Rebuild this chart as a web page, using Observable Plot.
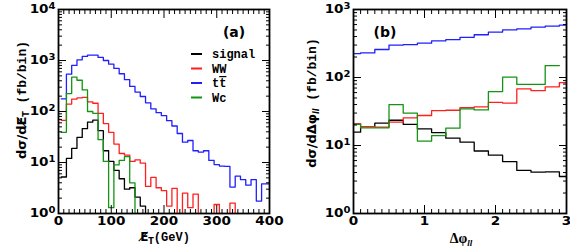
<!DOCTYPE html>
<html><head><meta charset="utf-8">
<script src="https://cdn.jsdelivr.net/npm/d3@7"></script>
<script src="https://cdn.jsdelivr.net/npm/@observablehq/plot@0.6"></script>
<style>
body{margin:0;background:#fff}
#wrap{position:relative;width:570px;height:249px;overflow:hidden;background:#fff}
#pa,#pb{position:absolute;top:0}
#pa{left:0}#pb{left:285px}
svg{overflow:visible}
</style></head><body>
<div id="wrap"><div id="pa"></div><div id="pb"></div></div>
<script>
// ---------- data ----------
const seriesNames = ["signal", "WW", "tt", "Wc"];
const seriesColors = ["#000000", "#ff1f1f", "#1f1fff", "#139413"];

// Panel (a): missing ET, 10 GeV bins (bin centres)
const metCenters = [10,20,30,40,50,60,70,80,90,100,110,120,130,140,150,160,170,180,190,200,
  210,220,230,240,250,260,270,280,290,300,310,320,330,340,350,360,370,380,390,400];
const metSignal = [5.2,12,19,31,46,62,68,42,17,10.5,7,4.8,3.0,3.2,2.1,1.4,
  0.5,0.5,0.5,0.5,0.5,0.5,0.5,0.5,0.5,0.5,0.5,0.5,0.5,0.5,0.5,0.5,0.5,0.5,0.5,0.5,0.5,0.5,0.5,0.5];
const metWW = [67,140,175,185,190,155,145,92,58,39,23,15,14,10.5,11.3,9.7,3.4,5.1,3.2,2.8,
  1.4,3.1,0.5,2.5,1.3,2.4,0.5,0.5,0.5,1.5,0.5,0.5,1.6,0.5,0.5,0.5,0.5,0.5,0.5,0.5];
const metTT = [177,540,800,1030,1200,1270,1270,1150,1000,850,700,550,420,310,240,197,148,113,95,83,
  66,52,37,25,27,17,16,17,11,9.1,8.5,8.4,3.3,5.4,4.6,3.6,4.6,1.75,3.8,3.8];
const metWc = [39,225,470,410,265,100,92,28,10.5,1.3,9,11,13,4,
  0.5,0.5,0.5,0.5,0.5,0.5,0.5,0.5,0.5,0.5,0.5,0.5,0.5,0.5,0.5,0.5,0.5,0.5,0.5,0.5,0.5,0.5,0.5,0.5,0.5,0.5];

// Panel (b): delta phi_ll, bins of 0.2 (bin centres)
const dphiCenters = [0,0.2,0.4,0.6,0.8,1.0,1.2,1.4,1.6,1.8,2.0,2.2,2.4,2.6,2.8,3.0];
const dphiSignal = [15.7,19,21.3,23.5,20.5,17.6,15.5,12.8,11.2,8.3,7.2,5.8,4.3,4.05,4.1,3.5];
const dphiWW = [21,19,18.6,22,25.5,27.6,32.6,33,36,37,43,42,68,64,73,84];
const dphiTT = [225,230,258,300,305,320,345,360,390,425,465,500,520,550,570,590];
const dphiWc = [20.5,18.2,18.2,40,30,11.6,14,18,34.6,33.4,62,101,79,79,150,null];

// axis tick labels
const metTickLabels = [0,100,200,300,400];
const dphiTickLabels = [0,1,2,3];
const yDecadesA = [1,10,100,1000,10000];
const yDecadesB = [1,10,100,1000];
const legendLabels = ["signal", "WW", "tt", "Wc"];

// ---------- helpers ----------
function histData(centers, half, series) {
  const out = [];
  series.forEach(s => {
    const idx = [];
    s.values.forEach((v, i) => { if (v != null) idx.push(i); });
    idx.forEach(i => out.push({x: centers[i] - half, y: s.values[i], name: s.name}));
    const li = idx[idx.length - 1];
    out.push({x: centers[li] + half, y: s.values[li], name: s.name});
  });
  return out;
}

function stretch(sel, k) {
  sel.each(function () {
    const tr = this.getAttribute("transform") || "";
    this.setAttribute("transform", tr + ` scale(${k},1)`);
  });
}

function panel(cfg) {
  const data = histData(cfg.centers, cfg.half, cfg.series);
  const minorY = [];
  cfg.yMajor.slice(0, -1).forEach(d => { for (let m = 2; m <= 9; m++) minorY.push(d * m); });
  const majY = cfg.yMajor;
  const svg = Plot.plot({
    width: cfg.width, height: 249,
    marginLeft: cfg.ml, marginRight: cfg.mr, marginTop: 9, marginBottom: 36,
    style: {fontFamily: "DejaVu Sans", fontWeight: "bold", fontSize: "11px", background: "white", overflow: "visible", color: "black"},
    x: {domain: cfg.xDomain},
    y: {type: "log", domain: [majY[0], majY[majY.length - 1]]},
    color: {domain: seriesNames, range: seriesColors},
    marks: [
      Plot.line(data, {x: "x", y: "y", z: "name", stroke: "name", curve: "step-after", clip: true, strokeWidth: 1.3}),
      Plot.axisX(cfg.xMinor, {anchor: "bottom", tickSize: -4, fill: "none"}),
      Plot.axisX(cfg.xMinor, {anchor: "top", tickSize: -4, fill: "none"}),
      Plot.axisX(cfg.xMajor, {anchor: "bottom", tickSize: -8, fill: "none"}),
      Plot.axisX(cfg.xMajor, {anchor: "top", tickSize: -8, fill: "none"}),
      Plot.axisX(cfg.xLabels, {anchor: "bottom", tickSize: 0, tickPadding: 3, label: null, fontSize: 11.5, fill: "black"}),
      Plot.axisY(minorY, {anchor: "left", tickSize: -4, fill: "none"}),
      Plot.axisY(minorY, {anchor: "right", tickSize: -4, fill: "none"}),
      Plot.axisY(majY, {anchor: "left", tickSize: -8, fill: "none"}),
      Plot.axisY(majY, {anchor: "right", tickSize: -8, fill: "none"}),
      Plot.axisY(majY, {anchor: "left", tickSize: 0, tickPadding: 3, label: null, fontSize: 11.5, fill: "black",
        tickFormat: d => String(Math.round(Math.log10(d)))}),
      Plot.frame({stroke: "black", strokeWidth: 1.8})
    ]
  });
  const s = d3.select(svg);
  s.selectAll('g[aria-label="y-axis tick label"] text').each(function () {
    const e = this.textContent;
    const t = d3.select(this);
    t.text("10");
    t.append("tspan").attr("dy", "-0.55em").attr("font-size", "8.5px").text(e);
  });
  stretch(s.selectAll('g[aria-label="y-axis tick label"] text'), 1.18);
  stretch(s.selectAll('g[aria-label="x-axis tick label"] text'), 1.18);
  return svg;
}

// ---------- panel (a) ----------
const svgA = panel({
  centers: metCenters, half: 5, width: 285, ml: 58, mr: 16,
  xDomain: [0, 400],
  xMinor: d3.range(10, 400, 10).filter(v => v % 100 !== 0),
  xMajor: [100, 200, 300],
  xLabels: metTickLabels,
  yMajor: yDecadesA,
  series: [
    {name: "signal", values: metSignal},
    {name: "WW", values: metWW},
    {name: "tt", values: metTT},
    {name: "Wc", values: metWc}
  ]
});
document.getElementById("pa").appendChild(svgA);

// ---------- panel (b) ----------
const svgB = panel({
  centers: dphiCenters, half: 0.1, width: 285, ml: 68, mr: 4,
  xDomain: [0, 3],
  xMinor: d3.range(1, 30).map(v => v / 10).filter(v => Math.abs(v - Math.round(v)) > 1e-6),
  xMajor: [1, 2],
  xLabels: dphiTickLabels,
  yMajor: yDecadesB,
  series: [
    {name: "signal", values: dphiSignal},
    {name: "WW", values: dphiWW},
    {name: "tt", values: dphiTT},
    {name: "Wc", values: dphiWc}
  ]
});
document.getElementById("pb").appendChild(svgB);

// ---------- titles, legend, panel labels ----------
const SANS = "DejaVu Sans", MONO = "Liberation Mono", SERIF = "Liberation Serif";
{
  const s = d3.select(svgA);
  const yt = s.append("text").attr("transform", "translate(26,100) rotate(-90)")
    .attr("text-anchor", "middle").attr("font-family", SANS).attr("font-weight", "bold").attr("font-size", 13).attr("fill", "black");
  yt.append("tspan").text("dσ/dE\u0338");
  yt.append("tspan").attr("font-size", 8).attr("dy", 3).text("T");
  yt.append("tspan").attr("dy", -3).attr("font-family", MONO).attr("font-size", 13).text(" (fb/bin)");
  const xt = s.append("text").attr("x", 165).attr("y", 241).attr("text-anchor", "middle")
    .attr("font-family", SANS).attr("font-weight", "bold").attr("font-size", 12).attr("fill", "black");
  xt.append("tspan").text("E\u0338");
  xt.append("tspan").attr("font-size", 8).attr("dy", 3).text("T");
  xt.append("tspan").attr("dy", -3).attr("font-family", MONO).attr("font-size", 12).text("(GeV)");
  s.append("text").attr("x", 234).attr("y", 37).attr("text-anchor", "middle")
    .attr("font-family", SANS).attr("font-weight", "bold").attr("font-size", 14).attr("fill", "black").text("(a)");
  legendLabels.forEach((lab, i) => {
    const y = 54 + 14.5 * i;
    s.append("line").attr("x1", 191).attr("x2", 202).attr("y1", y).attr("y2", y)
      .attr("stroke", seriesColors[i]).attr("stroke-width", 2);
    const t = s.append("text").attr("x", 212).attr("y", y + 4).attr("text-anchor", "start")
      .attr("font-family", MONO).attr("font-weight", "bold").attr("font-size", 12).attr("fill", "black");
    if (lab === "tt") {
      t.append("tspan").text("t");
      t.append("tspan").attr("text-decoration", "overline").text("t");
    } else t.text(lab);
  });
}
{
  const s = d3.select(svgB);
  const yt = s.append("text").attr("transform", "translate(31,103) rotate(-90)")
    .attr("text-anchor", "middle").attr("font-family", SANS).attr("font-weight", "bold").attr("font-size", 13).attr("fill", "black");
  yt.append("tspan").text("dσ/dΔφ");
  yt.append("tspan").attr("font-size", 8).attr("dy", 3).attr("font-style", "italic").text("ll");
  yt.append("tspan").attr("dy", -3).attr("font-family", MONO).attr("font-size", 13).text(" (fb/bin)");
  const xt = s.append("text").attr("x", 176).attr("y", 243).attr("text-anchor", "middle")
    .attr("font-family", SERIF).attr("font-size", 14).attr("fill", "black");
  xt.append("tspan").text("Δφ");
  xt.append("tspan").attr("font-size", 9).attr("dy", 3).attr("font-style", "italic").text("ll");
  s.append("text").attr("x", 100).attr("y", 37).attr("text-anchor", "middle")
    .attr("font-family", SANS).attr("font-weight", "bold").attr("font-size", 14).attr("fill", "black").text("(b)");
}
</script>
</body></html>
